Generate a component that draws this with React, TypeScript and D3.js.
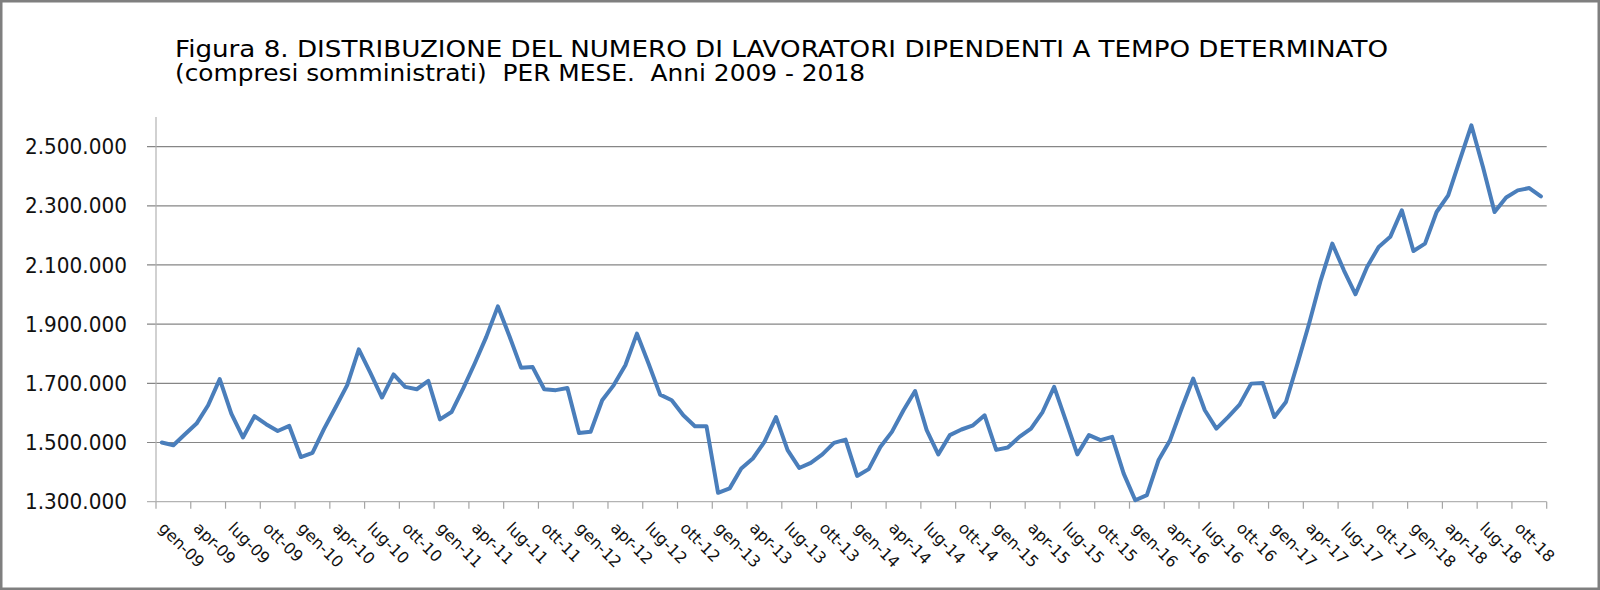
import React from "react";
import * as d3 from "d3";

const MONTHS = ["gen", "feb", "mar", "apr", "mag", "giu", "lug", "ago", "set", "ott", "nov", "dic"];
const YEARS = ["09", "10", "11", "12", "13", "14", "15", "16", "17", "18"];

// values in thousands, one array per year (gen..dic)
const y2009 = [1500, 1491, 1528, 1564, 1626, 1714, 1598, 1517, 1589, 1562, 1539, 1556];
const y2010 = [1451, 1465, 1546, 1619, 1694, 1815, 1735, 1652, 1730, 1688, 1680, 1708];
const y2011 = [1578, 1603, 1682, 1767, 1857, 1960, 1859, 1753, 1755, 1680, 1677, 1684];
const y2012 = [1532, 1536, 1643, 1694, 1761, 1868, 1767, 1662, 1643, 1592, 1555, 1555];
const y2013 = [1330, 1345, 1412, 1446, 1502, 1586, 1474, 1414, 1431, 1460, 1499, 1510];
const y2014 = [1387, 1410, 1485, 1536, 1609, 1674, 1542, 1460, 1525, 1544, 1558, 1592];
const y2015 = [1475, 1483, 1519, 1547, 1603, 1688, 1575, 1460, 1525, 1508, 1519, 1395];
const y2016 = [1305, 1322, 1440, 1508, 1615, 1716, 1609, 1547, 1586, 1628, 1699, 1701];
const y2017 = [1586, 1637, 1767, 1902, 2048, 2172, 2082, 2001, 2093, 2161, 2195, 2285];
const y2018 = [2147, 2172, 2279, 2335, 2454, 2572, 2431, 2279, 2328, 2352, 2360, 2332];

const yTicks = [1300000, 1500000, 1700000, 1900000, 2100000, 2300000, 2500000];

const TITLE1 = "Figura 8. DISTRIBUZIONE DEL NUMERO DI LAVORATORI DIPENDENTI A TEMPO DETERMINATO";
const TITLE2 = "(compresi somministrati)  PER MESE.  Anni 2009 - 2018";

const categories = YEARS.flatMap((yy) => MONTHS.map((m) => `${m}-${yy}`));
const values = [y2009, y2010, y2011, y2012, y2013, y2014, y2015, y2016, y2017, y2018]
  .flat()
  .map((v) => v * 1000);

const fmt = d3.formatLocale({ decimal: ",", thousands: ".", grouping: [3], currency: ["€", ""] }).format(",d");

export default function App() {
  const W = 1600;
  const H = 590;
  const left = 156;
  const right = 1546.7;
  const top = 117;
  const bottom = 501.7;

  const x = d3.scaleBand<string>().domain(categories).range([left, right]).padding(0);
  const y = d3.scaleLinear().domain([1300000, 2600000]).range([bottom, top]);
  const bw = x.bandwidth();

  const line = d3
    .line<number>()
    .x((_, i) => (x(categories[i]) as number) + bw / 2)
    .y((d) => y(d));

  const tickCats = categories.filter((_, i) => i % 3 === 0);
  const font = "'DejaVu Sans', Verdana, sans-serif";

  return (
    <svg
      width={W}
      height={H}
      style={{ position: "absolute", left: 0, top: 0, background: "#fff" }}
      fontFamily={font}
    >
      <rect x={0} y={0} width={W} height={H} fill="#fff" />
      <rect x={1.25} y={1.25} width={W - 2.5} height={H - 2.5} fill="none" stroke="#7f7f7f" strokeWidth={2.5} />

      {/* title */}
      <text x={175} y={57} fontSize={22.5} fill="#000" textLength={1213} lengthAdjust="spacingAndGlyphs">
        {TITLE1}
      </text>
      <text
        x={175}
        y={81}
        fontSize={22.5}
        fill="#000"
        textLength={690}
        lengthAdjust="spacingAndGlyphs"
        style={{ whiteSpace: "pre" }}
      >
        {TITLE2}
      </text>

      {/* gridlines */}
      {yTicks.map((t) => (
        <line
          key={t}
          x1={left - 9}
          x2={right}
          y1={y(t)}
          y2={y(t)}
          stroke={t === 1300000 ? "#b3b3b3" : "#868686"}
          strokeWidth={1.2}
        />
      ))}

      {/* y axis */}
      <line x1={left} x2={left} y1={top} y2={bottom} stroke="#b3b3b3" strokeWidth={1.2} />
      {yTicks.map((t) => (
        <text
          key={"l" + t}
          x={127}
          y={y(t)}
          dy="0.36em"
          textAnchor="end"
          fontSize={21}
          fill="#111"
          textLength={102}
          lengthAdjust="spacingAndGlyphs"
        >
          {fmt(t)}
        </text>
      ))}

      {/* x ticks */}
      {tickCats.map((c) => (
        <line
          key={"t" + c}
          x1={x(c) as number}
          x2={x(c) as number}
          y1={bottom}
          y2={bottom + 7}
          stroke="#a6a6a6"
          strokeWidth={1.2}
        />
      ))}
      <line x1={right} x2={right} y1={bottom} y2={bottom + 7} stroke="#a6a6a6" strokeWidth={1.2} />

      {/* x labels */}
      {tickCats.map((c) => {
        const cx = (x(c) as number) + bw / 2 - 4;
        const cy = 529;
        return (
          <text key={"x" + c} x={cx} y={cy} fontSize={16} fill="#111" transform={`rotate(45, ${cx}, ${cy})`}>
            {c}
          </text>
        );
      })}

      {/* series */}
      <path
        d={line(values) || ""}
        fill="none"
        stroke="#4a7ebb"
        strokeWidth={4}
        strokeLinejoin="round"
        strokeLinecap="round"
      />
    </svg>
  );
}
